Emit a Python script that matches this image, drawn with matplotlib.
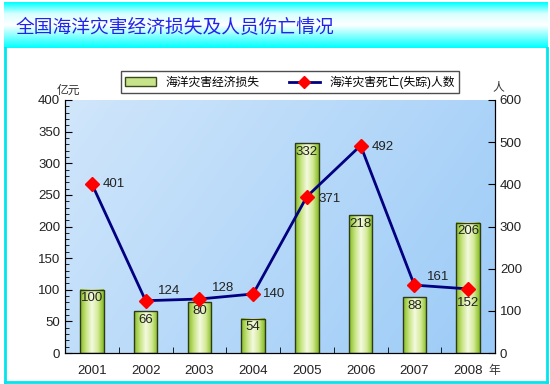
import numpy as np
import matplotlib.pyplot as plt
from matplotlib.colors import LinearSegmentedColormap
from matplotlib.patches import Rectangle, Patch
from matplotlib.lines import Line2D

plt.rcParams['font.family'] = ['Liberation Sans', 'Noto Sans CJK SC', 'DejaVu Sans']

years = ['2001', '2002', '2003', '2004', '2005', '2006', '2007', '2008']
loss = [100, 66, 80, 54, 332, 218, 88, 206]          # 亿元
deaths = [401, 124, 128, 140, 371, 492, 161, 152]    # 人

# label offsets for the line values (points)
offs = [(8, 0, 'left'), (9, 7, 'left'), (9, 8, 'left'), (7, 0, 'left'),
        (8, -2, 'left'), (8, -1, 'left'), (9, 6, 'left'), (0, -10, 'center')]

fig = plt.figure(figsize=(5.5, 3.84), dpi=100)

# title band
tax = fig.add_axes([4 / 550, 1 - 48 / 384, 544 / 550, 46 / 384])
band = LinearSegmentedColormap.from_list('band', ['#00ffff', '#d8ffff', '#ffffff', '#80ffff', '#00ffff'])
tax.imshow(np.linspace(0, 1, 100).reshape(-1, 1), cmap=band, aspect='auto', extent=[0, 1, 0, 1])
tax.set_xlim(0, 1)
tax.set_ylim(0, 1)
tax.axis('off')
tax.text(0.022, 0.45, '全国海洋灾害经济损失及人员伤亡情况', color='#2222ee', fontsize=13.5,
         va='center', ha='left', family='Noto Sans CJK SC')

# cyan frame below the title
for xs, ys in [([5, 5], [48, 382]), ([547, 547], [48, 382]), ([5, 547], [382, 382])]:
    fig.add_artist(Line2D([v / 550 for v in xs], [1 - v / 384 for v in ys],
                          color='#00e5ee', lw=2))

ax = fig.add_axes([65 / 550, 1 - 353 / 384, 430 / 550, 253 / 384])
ax2 = ax.twinx()

# plot background gradient
bg = LinearSegmentedColormap.from_list('bg', ['#d0e6fb', '#9ccbf7'])
xx, yy = np.meshgrid(np.linspace(0, 1, 200), np.linspace(0, 1, 100))
ax.imshow(xx * 0.7 + yy * 0.3, cmap=bg, aspect='auto', extent=[0, 1, 0, 1],
          transform=ax.transAxes, zorder=0)

x = np.arange(len(years))
w = 0.44
barcm = LinearSegmentedColormap.from_list('bar', ['#86bd22', '#c8e482', '#f4fae0', '#d4ea98', '#86bd22'])
grad = np.linspace(0, 1, 50).reshape(1, -1)
for xi, v in zip(x, loss):
    ax.imshow(grad, cmap=barcm, aspect='auto', extent=[xi - w / 2, xi + w / 2, 0, v], zorder=2)
    ax.add_patch(Rectangle((xi - w / 2, 0), w, v, fill=False, ec='#2f3a1a', lw=1, zorder=3))
    ax.text(xi, v - 4, str(v), ha='center', va='top', fontsize=9.5, color='#222222', zorder=4)

ax.set_xlim(-0.5, len(years) - 0.5)
ax.set_ylim(0, 400)
ax.set_yticks(range(0, 401, 50))
ax.set_yticks(range(0, 401, 10), minor=True)
ax.set_xticks(x)
ax.set_xticklabels(years, fontsize=9.5, color='#222222')
ax.set_xticks(np.arange(0.5, len(years) - 0.5), minor=True)
ax.tick_params(axis='x', which='major', length=0, pad=9)
ax.tick_params(axis='x', which='minor', direction='in', length=4)
ax.tick_params(axis='y', which='major', direction='in', length=5, labelsize=9.5, labelcolor='#222222')
ax.tick_params(axis='y', which='minor', direction='in', length=3)
ax.spines['top'].set_visible(False)

ax2.plot(x, deaths, color='#000080', lw=2, marker='D', ms=7, mfc='#ff0000', mec='#ff0000', zorder=5)
for xi, v, (dx, dy, ha) in zip(x, deaths, offs):
    ax2.annotate(str(v), (xi, v), xytext=(dx, dy), textcoords='offset points',
                 ha=ha, va='center', fontsize=9.5, color='#222222')
ax2.set_ylim(0, 600)
ax2.set_yticks(range(0, 601, 100))
ax2.tick_params(axis='y', direction='in', length=5, labelsize=9.5, labelcolor='#222222')
ax2.spines['top'].set_visible(False)

fig.text(57 / 550, 1 - 91 / 384, '亿元', fontsize=8.5, color='#333333', va='center')
fig.text(492 / 550, 1 - 87 / 384, '人', fontsize=8.5, color='#333333', va='center')
fig.text(488 / 550, 1 - 371 / 384, '年', fontsize=8.5, color='#333333', va='center')

handles = [Patch(fc='#c8e48a', ec='#3a4a1a', lw=1),
           Line2D([], [], color='#000080', lw=2, marker='D', ms=6, mfc='#ff0000', mec='#ff0000')]
leg = fig.legend(handles, ['海洋灾害经济损失', '海洋灾害死亡(失踪)人数'], loc='center',
                 bbox_to_anchor=(290 / 550, 1 - 82 / 384), ncol=2, fontsize=8.5,
                 frameon=True, fancybox=False, edgecolor='#222222', handlelength=2.6,
                 columnspacing=2.5, borderpad=0.35)
leg.get_frame().set_linewidth(1)

fig.savefig('out.png', dpi=100)
